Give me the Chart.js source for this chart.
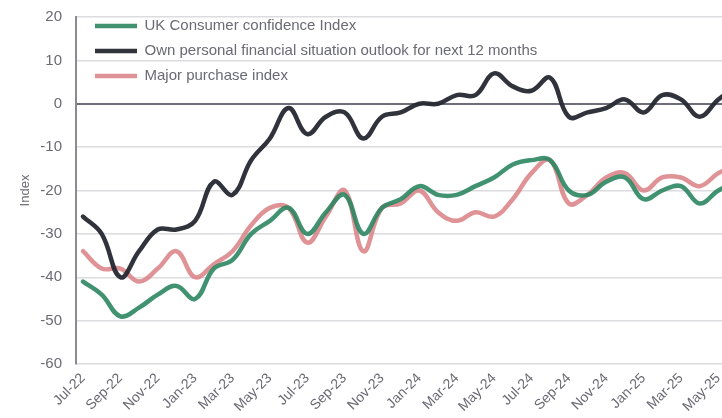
<!DOCTYPE html>
<html>
<head>
<meta charset="utf-8">
<script src="https://cdn.jsdelivr.net/npm/chart.js@4"></script>
<style>
  html, body { margin: 0; padding: 0; background: #fff; overflow: hidden; }
  #wrap { width: 722px; height: 418px; overflow: hidden; }
</style>
</head>
<body>
<div id="wrap"><canvas id="chart" width="744" height="418"></canvas></div>
<script>
const months = ['Jul-22', 'Aug-22', 'Sep-22', 'Oct-22', 'Nov-22', 'Dec-22',
    'Jan-23', 'Feb-23', 'Mar-23', 'Apr-23', 'May-23', 'Jun-23', 'Jul-23', 'Aug-23', 'Sep-23', 'Oct-23', 'Nov-23', 'Dec-23',
    'Jan-24', 'Feb-24', 'Mar-24', 'Apr-24', 'May-24', 'Jun-24', 'Jul-24', 'Aug-24', 'Sep-24', 'Oct-24', 'Nov-24', 'Dec-24',
    'Jan-25', 'Feb-25', 'Mar-25', 'Apr-25', 'May-25', 'Jun-25'];

const confidence = [-41, -44, -49, -47, -44, -42, -45, -38, -36, -30, -27, -24, -30, -25, -21, -30, -24, -22,
    -19, -21, -21, -19, -17, -14, -13, -13, -20, -21, -18, -17, -22, -20, -19, -23, -20, -18];

const personalFinance = [-26, -30, -40, -34, -29, -29, -27, -18, -21, -13, -8, -1, -7, -3, -2, -8, -3, -2,
    0, 0, 2, 2, 7, 4, 3, 6, -3, -2, -1, 1, -2, 2, 1, -3, 1, 4];

const majorPurchase = [-34, -38, -38, -41, -38, -34, -40, -37, -34, -28, -24, -24, -32, -26, -20, -34, -24, -23,
    -20, -25, -27, -25, -26, -22, -16, -13, -23, -21, -17, -16, -20, -17, -17, -19, -16, -14];

const yTicks = [-60, -50, -40, -30, -20, -10, 0, 10, 20];

const grey = '#6a6a74';
const font = 'Liberation Sans, Arial, sans-serif';

const toPoints = arr => arr.map((v, i) => ({ x: i, y: v }));

// nudge the in-plot legend to where the original sits
const legendNudge = {
    id: 'legendNudge',
    afterLayout(chart) {
        chart.legend.left += 9;
        chart.legend.top += 8.5;
    }
};

const lineSet = (label, data, color) => ({
    label: label,
    data: toPoints(data),
    borderColor: color,
    backgroundColor: color,
    borderWidth: 4.5,
    borderCapStyle: 'round',
    borderJoinStyle: 'round',
    pointRadius: 0,
    tension: 0.4,
    fill: false
});

new Chart(document.getElementById('chart').getContext('2d'), {
    type: 'line',
    data: {
        datasets: [
            lineSet('UK Consumer confidence Index', confidence, 'rgba(44, 134, 98, 0.9)'),
            lineSet('Own personal financial situation outlook for next 12 months', personalFinance, 'rgba(38, 40, 50, 0.95)'),
            lineSet('Major purchase index', majorPurchase, 'rgba(217, 128, 132, 0.85)')
        ]
    },
    options: {
        responsive: false,
        animation: false,
        layout: { padding: { top: 17, right: 0, bottom: 0, left: 0 } },
        plugins: {
            tooltip: { enabled: false },
            legend: {
                position: 'chartArea',
                align: 'start',
                labels: {
                    usePointStyle: true,
                    pointStyle: 'line',
                    pointStyleWidth: 42,
                    boxHeight: 15,
                    padding: 10,
                    color: grey,
                    font: { family: font, size: 15 }
                }
            }
        },
        scales: {
            x: {
                type: 'linear',
                min: -0.375,
                max: months.length - 0.625,
                afterBuildTicks: s => {
                    s.ticks = months.map((m, i) => ({ value: i })).filter(t => t.value % 2 === 0);
                },
                afterFit: s => { s.height = 54; },
                grid: { display: false, drawTicks: false },
                border: { display: false },
                ticks: {
                    autoSkip: false,
                    minRotation: 45,
                    maxRotation: 45,
                    padding: 6,
                    color: grey,
                    font: { family: font, size: 14 },
                    callback: v => months[v]
                }
            },
            y: {
                min: -60,
                max: 20,
                afterBuildTicks: s => { s.ticks = yTicks.map(v => ({ value: v })); },
                afterFit: s => {
                    s.width = 76;
                    s.paddingTop = 0;
                    s.paddingBottom = 0;
                },
                grid: {
                    drawTicks: false,
                    color: c => c.tick && c.tick.value === 0 ? '#6e6e7a' : '#dcdcdf',
                    lineWidth: c => c.tick && c.tick.value === 0 ? 2 : 1.5
                },
                border: { display: true, color: '#8a8a94', width: 2 },
                ticks: {
                    padding: 14,
                    color: grey,
                    font: { family: font, size: 15 }
                },
                title: {
                    display: true,
                    text: 'Index',
                    color: grey,
                    padding: { top: 18, bottom: 0 },
                    font: { family: font, size: 13 }
                }
            }
        }
    },
    plugins: [legendNudge]
});
</script>
</body>
</html>
